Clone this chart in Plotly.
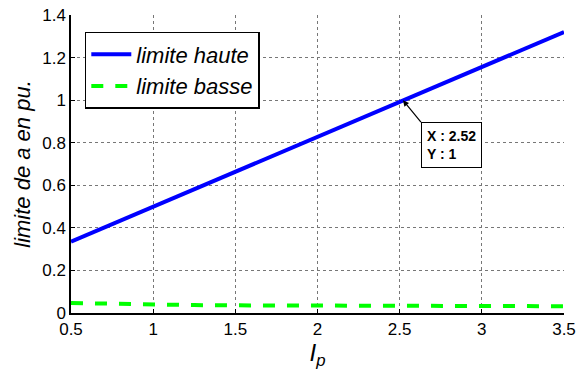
import plotly.graph_objects as go

x_vals = [0.5, 0.75, 1.0, 1.25, 1.5, 1.75, 2.0, 2.25, 2.5, 2.75, 3.0, 3.25, 3.5]
haute = [0.335, 0.417, 0.499, 0.581, 0.663, 0.745, 0.827, 0.909, 0.991, 1.073, 1.155, 1.237, 1.32]
basse = [0.047, 0.043, 0.040, 0.037, 0.036, 0.036, 0.034, 0.033, 0.033, 0.033, 0.032, 0.032, 0.032]
x_ticks = [0.5, 1, 1.5, 2, 2.5, 3, 3.5]
x_ticklabels = ["0.5", "1", "1.5", "2", "2.5", "3", "3.5"]
y_ticks = [0, 0.2, 0.4, 0.6, 0.8, 1.0, 1.2, 1.4]
y_ticklabels = ["0", "0.2", "0.4", "0.6", "0.8", "1", "1.2", "1.4"]
datatip = (2.52, 1.0)

FONT = "Liberation Sans, Arial, sans-serif"

fig = go.Figure()
fig.add_trace(go.Scatter(x=x_vals, y=haute, mode="lines", name="<i>limite haute</i>",
                         line=dict(color="#0000FF", width=4)))
fig.add_trace(go.Scatter(x=x_vals, y=basse, mode="lines", name="<i>limite basse</i>",
                         line=dict(color="#00FF00", width=4, dash="dash")))

fig.add_annotation(x=datatip[0], y=datatip[1], xref="x", yref="y",
                   text="<b>X : 2.52</b><br><b>Y : 1</b>", showarrow=True,
                   arrowhead=2, arrowsize=1, arrowwidth=1.2, arrowcolor="black",
                   ax=18, ay=22, xanchor="left", yanchor="top", align="left",
                   font=dict(family=FONT, size=14, color="black"),
                   bgcolor="white", bordercolor="black", borderwidth=1, borderpad=5)

axis_common = dict(showline=True, linecolor="black", linewidth=1.5, mirror=False,
                   ticks="inside", ticklen=4, tickcolor="black",
                   showgrid=True, gridcolor="#777777", griddash="dot", gridwidth=1,
                   zeroline=False, automargin=False, ticklabeloverflow="allow",
                   tickfont=dict(family=FONT, size=17, color="black"))

fig.update_xaxes(range=[0.5, 3.5], tickvals=x_ticks, ticktext=x_ticklabels,
                 title=dict(text="<i>I<sub>p</sub></i>", font=dict(family=FONT, size=24, color="black"), standoff=0),
                 **axis_common)
fig.update_yaxes(range=[0, 1.4], tickvals=y_ticks, ticktext=y_ticklabels,
                 title=dict(text="<i>limite de a en pu.</i>", font=dict(family=FONT, size=22, color="black"), standoff=6),
                 **axis_common)

fig.update_layout(width=576, height=374, plot_bgcolor="white", paper_bgcolor="white",
                  margin=dict(l=71, r=12, t=15, b=61),
                  legend=dict(x=0.028, y=0.943, xanchor="left", yanchor="top",
                              bgcolor="white", bordercolor="black", borderwidth=1.5,
                              font=dict(family=FONT, size=22, color="black"),
                              itemwidth=40, tracegroupgap=0),
                  font=dict(family=FONT))

# remove the page's default 8px body margin so the figure fills the window
fig.write_html("out.html", config={"displayModeBar": False},
               post_script="document.body.style.margin='0';document.body.style.overflow='hidden';")
